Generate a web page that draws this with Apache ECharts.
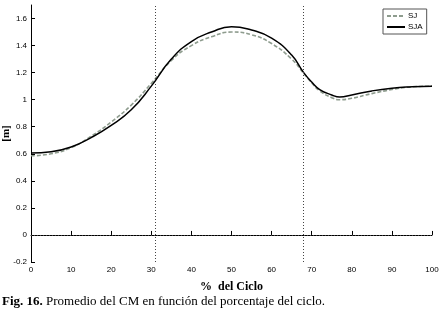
<!DOCTYPE html>
<html>
<head>
<meta charset="utf-8">
<script src="https://cdn.jsdelivr.net/npm/echarts@6/dist/echarts.min.js"></script>
<style>
  html, body { margin: 0; padding: 0; background: #fff; }
  #chart { width: 444px; height: 314px; }
</style>
</head>
<body>
<div id="chart"></div>
<script>
// % del ciclo y posición del CM [m]
const percent = [0, 5, 10, 15, 20, 25, 30, 35, 40, 45, 50, 55, 60, 65, 68, 70, 72, 75, 77, 80, 85, 90, 95, 100]
const sj  = [0.585, 0.60, 0.645, 0.73, 0.835, 0.96, 1.12, 1.29, 1.40, 1.465, 1.50, 1.48, 1.415, 1.30, 1.195, 1.125, 1.065, 1.015, 1.0, 1.01, 1.045, 1.075, 1.095, 1.10]
const sja = [0.605, 0.615, 0.65, 0.72, 0.81, 0.925, 1.10, 1.30, 1.43, 1.50, 1.54, 1.515, 1.455, 1.33, 1.20, 1.13, 1.075, 1.035, 1.02, 1.035, 1.065, 1.085, 1.095, 1.10]
const cycleMarks = [31, 68]   // líneas punteadas verticales
const yTicks = [-0.2, 0, 0.2, 0.4, 0.6, 0.8, 1, 1.2, 1.4, 1.6]

const pairs = (ys) => percent.map((x, i) => [x, ys[i]])

const myChart = echarts.init(document.getElementById('chart'))

const dotted = { color: '#444', width: 1, type: [1, 2] }

let option = {
  animation: false,
  grid: { left: 31, right: 12, top: 5, bottom: 52, outerBoundsMode: 'none' },
  legend: {
    orient: 'vertical',
    left: 383, top: 9,
    padding: [3, 4, 3, 3],
    itemWidth: 18, itemHeight: 8, itemGap: 3,
    borderColor: '#555', borderWidth: 1,
    backgroundColor: '#fff',
    itemStyle: { opacity: 0 },
    textStyle: { fontFamily: 'Liberation Sans', fontSize: 8, color: '#000', padding: [0, 0, 0, -2] },
    data: ['SJ', 'SJA']
  },
  xAxis: {
    type: 'value', min: 0, max: 100, interval: 10,
    name: '%  del Ciclo', nameLocation: 'middle', nameGap: 19, nameMoveOverlap: false,
    nameTextStyle: { fontFamily: 'Liberation Serif', fontWeight: 'bold', fontSize: 12, color: '#000' },
    axisLine: { lineStyle: { color: '#000', width: 1 } },
    axisTick: { inside: true, length: 4, lineStyle: { color: '#000' } },
    axisLabel: { fontFamily: 'Liberation Sans', fontSize: 8, color: '#000', margin: 4 },
    splitLine: { show: false }
  },
  yAxis: {
    type: 'value', min: -0.2, max: 1.7,
    name: '[m]', nameLocation: 'middle', nameGap: 19, nameRotate: 90, nameMoveOverlap: false,
    nameTextStyle: { fontFamily: 'Liberation Serif', fontWeight: 'bold', fontSize: 11, color: '#000' },
    axisLine: { show: true, lineStyle: { color: '#000', width: 1 } },
    axisTick: { inside: true, length: 4, customValues: yTicks, lineStyle: { color: '#000' } },
    axisLabel: {
      fontFamily: 'Liberation Sans', fontSize: 8, color: '#000', margin: 4,
      customValues: yTicks,
      formatter: (v) => String(Math.round(v * 10) / 10)
    },
    splitLine: { show: false }
  },
  series: [
    {
      name: 'SJ', type: 'line', data: pairs(sj),
      showSymbol: false, symbol: 'none', smooth: 0.5,
      lineStyle: { color: '#8e9c8e', width: 1.6, type: [4, 2] },
      itemStyle: { color: '#8e9c8e' },
      z: 2
    },
    {
      name: 'SJA', type: 'line', data: pairs(sja),
      showSymbol: false, symbol: 'none', smooth: 0.5,
      lineStyle: { color: '#000', width: 1.5 },
      itemStyle: { color: '#000' },
      z: 3,
      markLine: {
        silent: true, symbol: 'none', label: { show: false },
        lineStyle: dotted,
        data: [
          ...cycleMarks.map(x => ({ xAxis: x })),
          { yAxis: 0 }
        ]
      }
    }
  ],
  graphic: [{
    type: 'text', left: 2, top: 295,
    style: {
      text: '{b|Fig. 16.} Promedio del CM en función del porcentaje del ciclo.',
      fontFamily: 'Liberation Serif', fontSize: 13, fill: '#000',
      rich: { b: { fontFamily: 'Liberation Serif', fontSize: 13, fontWeight: 'bold' } }
    }
  }]
}

option && myChart.setOption(option)
</script>
</body>
</html>
